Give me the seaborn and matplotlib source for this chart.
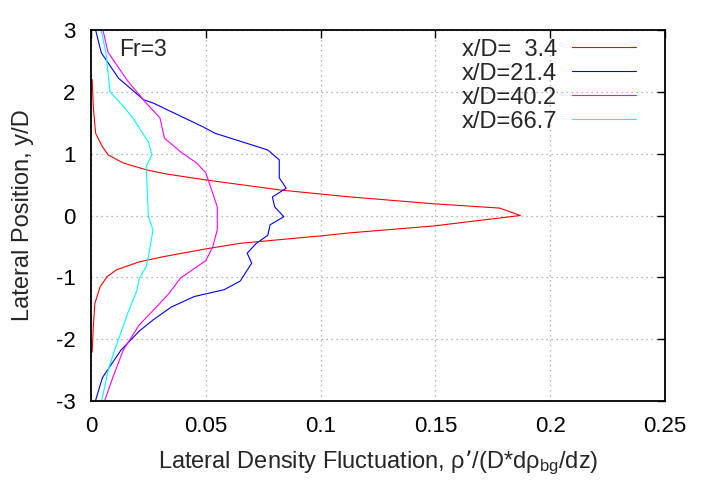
import numpy as np
import pandas as pd
import matplotlib
matplotlib.use("Agg")
import matplotlib.pyplot as plt
import seaborn as sns

# ---- data (y/D, fluctuation) ----
labels = ["x/D=  3.4", "x/D=21.4", "x/D=40.2", "x/D=66.7"]
colors = ["#ff0000", "#0000ff", "#ff00ff", "#00ffff"]

y_34 = [2.2, 1.76, 1.33, 1.11, 0.98, 0.85, 0.74, 0.67, 0.57, 0.41, 0.30, 0.19, 0.12, 0.0,
        -0.17, -0.28, -0.33, -0.45, -0.54, -0.67, -0.75, -0.88, -0.99, -1.15, -1.42, -1.80, -2.21]
v_34 = [0.0005, 0.001, 0.002, 0.005, 0.0075, 0.014, 0.024, 0.033, 0.051, 0.083, 0.113, 0.149, 0.178, 0.187,
        0.149, 0.113, 0.100, 0.065, 0.050, 0.031, 0.021, 0.011, 0.007, 0.004, 0.0017, 0.001, 0.0005]

y_214 = [3.0, 2.63, 2.22, 1.87, 1.82, 1.43, 1.33, 1.06, 0.90, 0.61, 0.44, 0.30, 0.14, -0.02,
         -0.15, -0.32, -0.45, -0.61, -0.77, -1.06, -1.20, -1.31, -1.48, -1.69, -1.87, -2.18, -2.62, -2.99]
v_214 = [0.002, 0.0045, 0.012, 0.023, 0.027, 0.049, 0.054, 0.077, 0.082, 0.082, 0.085, 0.079, 0.080, 0.084,
         0.078, 0.077, 0.072, 0.068, 0.070, 0.065, 0.058, 0.045, 0.035, 0.027, 0.021, 0.013, 0.005, 0.002]

y_402 = [3.0, 2.64, 2.19, 1.82, 1.58, 1.25, 1.03, 0.85, 0.69, 0.36, 0.14, -0.23, -0.37, -0.51,
         -0.73, -1.01, -1.26, -1.42, -1.77, -2.18, -2.62, -2.99]
v_402 = [0.0052, 0.0074, 0.0157, 0.024, 0.030, 0.032, 0.039, 0.046, 0.050, 0.053, 0.055, 0.055, 0.054, 0.053,
         0.050, 0.039, 0.034, 0.030, 0.021, 0.014, 0.0095, 0.006]

y_667 = [3.0, 2.63, 2.0, 1.79, 1.59, 1.19, 0.98, 0.79, 0.4, -0.02, -0.23, -0.67, -0.83, -1.02,
         -1.21, -1.58, -2.23, -2.50, -2.99]
v_667 = [0.0044, 0.0065, 0.0083, 0.0135, 0.018, 0.025, 0.0265, 0.024, 0.0245, 0.025, 0.027, 0.025, 0.024, 0.021,
         0.020, 0.016, 0.0098, 0.0075, 0.0047]

x_ticks = [0, 0.05, 0.1, 0.15, 0.2, 0.25]
x_ticklabels = ["0", "0.05", "0.1", "0.15", "0.2", "0.25"]
y_ticks = [-3, -2, -1, 0, 1, 2, 3]

frames = []
for lab, ys, vs in zip(labels, [y_34, y_214, y_402, y_667], [v_34, v_214, v_402, v_667]):
    frames.append(pd.DataFrame({"y": ys, "v": vs, "series": lab}))
df = pd.concat(frames, ignore_index=True)

sns.set_style("white")
plt.rcParams["font.family"] = ["Liberation Sans", "DejaVu Sans"]
plt.rcParams["mathtext.default"] = "regular"
plt.rcParams["axes.unicode_minus"] = False

W, H = 720, 504
L, R, T, B = 91, 665, 30, 401
fig = plt.figure(figsize=(W / 100, H / 100), dpi=100)
ax = fig.add_axes([L / W, 1 - B / H, (R - L) / W, (B - T) / H])

sns.lineplot(data=df, x="v", y="y", hue="series", hue_order=labels,
             palette=dict(zip(labels, colors)), sort=False, estimator=None,
             units="series", linewidth=0.8, ax=ax, legend=False)

ax.set_xlim(0, 0.25)
ax.set_ylim(-3, 3)
ax.set_xticks(x_ticks)
ax.set_xticklabels(x_ticklabels)
ax.set_yticks(y_ticks)
ax.grid(True, color="#a0a0a0", linestyle=(0, (1, 3)), linewidth=0.9)
ax.tick_params(direction="in", length=6, width=1, top=True, right=True,
               labelsize=16, pad=11, colors="black")
for s in ax.spines.values():
    s.set_visible(True)
    s.set_color("black")
    s.set_linewidth(1.3)

ax.set_xlabel("Lateral Density Fluctuation, ρ’/(D*dρ$_{bg}$/dz)", fontsize=17, labelpad=8)
ax.set_ylabel("Lateral Position, y/D", fontsize=17, labelpad=16)

def fx(px):
    return (px - L) / (R - L)

def fy(py):
    return (B - py) / (B - T)

ax.text(fx(119), fy(56), "Fr=3", fontsize=16.5, va="baseline", ha="left", transform=ax.transAxes)

# legend (text right-aligned, sample line to the right, gnuplot style)
for i, (lab, c) in enumerate(zip(labels, colors)):
    base = 56 + 24 * i
    ax.text(fx(557), fy(base), lab, fontsize=17, ha="right", va="baseline", transform=ax.transAxes)
    ax.add_line(plt.Line2D([fx(572), fx(636)], [fy(base - 9), fy(base - 9)], color=c,
                           linewidth=0.8, transform=ax.transAxes))

fig.savefig("out.png", dpi=100)
